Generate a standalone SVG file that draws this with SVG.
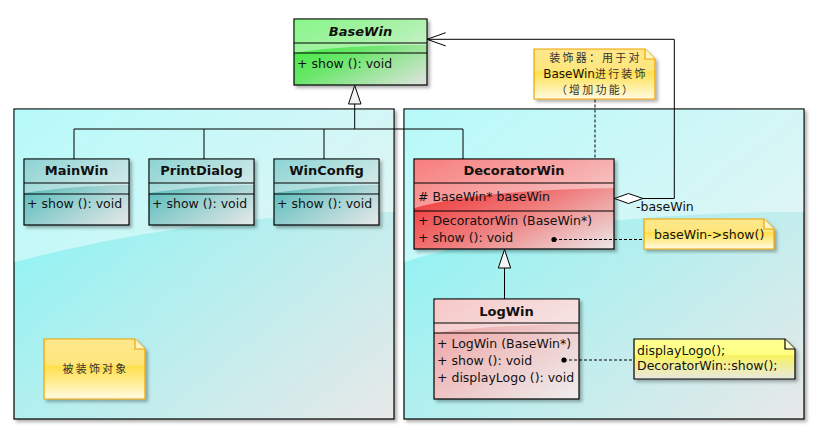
<svg xmlns="http://www.w3.org/2000/svg" width="819" height="434" viewBox="0 0 819 434">
<defs>
<style>
.t{font-family:"DejaVu Sans","Noto Sans CJK SC",sans-serif;font-size:12.5px;fill:#111}
.n{font-family:"DejaVu Sans",sans-serif;font-size:13px;font-weight:bold;fill:#111;text-anchor:middle}
.cn{font-family:"Noto Sans CJK SC","DejaVu Sans",sans-serif;font-size:11px;letter-spacing:2.2px;fill:#333;text-anchor:middle}
.cl{stroke:#000;stroke-width:1.2}
.ln{stroke:#000;stroke-width:1;fill:none}
.dash{stroke:#000;stroke-width:1;fill:none;stroke-dasharray:3,2}
.gl{fill:#fff;fill-opacity:0.45}
.fr{stroke:#000;stroke-width:1.2;fill:url(#gFrame)}
</style>
<linearGradient id="gFrame" x1="0" y1="0" x2="1" y2="1"><stop offset="0" stop-color="#7cf6f6"/><stop offset="1" stop-color="#e8e8e8"/></linearGradient>
<linearGradient id="gTeal" x1="0" y1="0" x2="1" y2="1"><stop offset="0" stop-color="#30b0b0"/><stop offset="1" stop-color="#e8e8e8"/></linearGradient>
<linearGradient id="gRed" x1="0" y1="0" x2="1" y2="1"><stop offset="0" stop-color="#f01414"/><stop offset="0.55" stop-color="#f07878"/><stop offset="1" stop-color="#ebe8e8"/></linearGradient>
<linearGradient id="gPink" x1="0" y1="0" x2="1" y2="1"><stop offset="0" stop-color="#f09a9a"/><stop offset="1" stop-color="#eeeeee"/></linearGradient>
<linearGradient id="gGreen" x1="0" y1="0" x2="1" y2="1"><stop offset="0" stop-color="#28f028"/><stop offset="0.5" stop-color="#6ce66c"/><stop offset="1" stop-color="#e2e2e2"/></linearGradient>
<linearGradient id="gNoteO" x1="0" y1="0" x2="0" y2="1"><stop offset="0" stop-color="#fee88c"/><stop offset="0.42" stop-color="#fee57c"/><stop offset="0.46" stop-color="#ffe04c"/><stop offset="1" stop-color="#fffbe2"/></linearGradient>
<linearGradient id="gNoteY" x1="0" y1="0" x2="0" y2="1"><stop offset="0" stop-color="#ffff92"/><stop offset="0.38" stop-color="#ffff84"/><stop offset="0.42" stop-color="#f8f262"/><stop offset="1" stop-color="#e8e8e2"/></linearGradient>
<filter id="sh" x="-5%" y="-5%" width="115%" height="120%"><feDropShadow dx="2.5" dy="2.5" stdDeviation="1.5" flood-color="#000" flood-opacity="0.3"/></filter>
</defs>
<rect width="819" height="434" fill="#fff"/>

<g id="frameLeft">
<rect class="fr" x="14" y="109" width="380" height="310" filter="url(#sh)"/>
<path class="gl" d="M14.6,109.6 H393.4 V212 Q200,214 14.6,262 Z"/>
</g>
<g id="frameRight">
<rect class="fr" x="404" y="109" width="400" height="310" filter="url(#sh)"/>
<path class="gl" d="M404.6,109.6 H803.4 V212 Q560,212 404.6,262 Z"/>
</g>

<g id="BaseWin">
<rect class="cl" x="294" y="19" width="133" height="66" fill="url(#gGreen)" filter="url(#sh)"/>
<path class="gl" d="M294.6,19.6 H426.4 V45 Q340,45 294.6,53 Z"/>
<line class="cl" x1="294" y1="43" x2="427" y2="43"/>
<line class="cl" x1="294" y1="53" x2="427" y2="53"/>
<text class="n" x="360.5" y="35.5" font-style="italic">BaseWin</text>
<text class="t" x="297" y="67.5">+ show (): void</text>
</g>

<g id="MainWin">
<rect class="cl" x="24" y="159" width="105" height="66" fill="url(#gTeal)" filter="url(#sh)"/>
<path class="gl" d="M24.6,159.6 H128.4 V185 Q70,186 24.6,193 Z"/>
<line class="cl" x1="24" y1="183" x2="129" y2="183"/>
<line class="cl" x1="24" y1="194" x2="129" y2="194"/>
<text class="n" x="76.5" y="175">MainWin</text>
<text class="t" x="27" y="207.5">+ show (): void</text>
</g>

<g id="PrintDialog">
<rect class="cl" x="149" y="159" width="105" height="66" fill="url(#gTeal)" filter="url(#sh)"/>
<path class="gl" d="M149.6,159.6 H253.4 V185 Q195,186 149.6,193 Z"/>
<line class="cl" x1="149" y1="183" x2="254" y2="183"/>
<line class="cl" x1="149" y1="194" x2="254" y2="194"/>
<text class="n" x="201.5" y="175">PrintDialog</text>
<text class="t" x="152" y="207.5">+ show (): void</text>
</g>

<g id="WinConfig">
<rect class="cl" x="274" y="159" width="105" height="66" fill="url(#gTeal)" filter="url(#sh)"/>
<path class="gl" d="M274.6,159.6 H378.4 V185 Q320,186 274.6,193 Z"/>
<line class="cl" x1="274" y1="183" x2="379" y2="183"/>
<line class="cl" x1="274" y1="194" x2="379" y2="194"/>
<text class="n" x="326.5" y="175">WinConfig</text>
<text class="t" x="277" y="207.5">+ show (): void</text>
</g>

<g id="DecoratorWin">
<rect class="cl" x="414" y="159" width="200" height="90" fill="url(#gRed)" filter="url(#sh)"/>
<path class="gl" d="M414.6,159.6 H613.4 V188 Q480,190 414.6,208 Z"/>
<line class="cl" x1="414" y1="183" x2="614" y2="183"/>
<line class="cl" x1="414" y1="211" x2="614" y2="211"/>
<text class="n" x="514" y="175">DecoratorWin</text>
<text class="t" x="418" y="200.5"># BaseWin* baseWin</text>
<text class="t" x="418" y="225">+ DecoratorWin (BaseWin*)</text>
<text class="t" x="418" y="241.5">+ show (): void</text>
</g>

<g id="LogWin">
<rect class="cl" x="434" y="299" width="145" height="100" fill="url(#gPink)" filter="url(#sh)"/>
<path class="gl" d="M434.6,299.6 H578.4 V324 Q490,325 434.6,333 Z"/>
<line class="cl" x1="434" y1="323" x2="579" y2="323"/>
<line class="cl" x1="434" y1="333" x2="579" y2="333"/>
<text class="n" x="506.5" y="315.5">LogWin</text>
<text class="t" x="437" y="347.5">+ LogWin (BaseWin*)</text>
<text class="t" x="437" y="364.5">+ show (): void</text>
<text class="t" x="437" y="381.5">+ displayLogo (): void</text>
</g>

<g id="noteDecorator">
<path d="M534,49 H645 L655,59 V99 H534 Z" fill="url(#gNoteO)" stroke="#f0a400" stroke-width="1.2" filter="url(#sh)"/>
<path d="M645,49 V59 H655" fill="#fff6c8" stroke="#f0a400" stroke-width="1.2"/>
<text class="cn" x="595.5" y="62">装饰器：用于对</text>
<text class="cn" x="595.5" y="78"><tspan font-family="DejaVu Sans" font-size="12" letter-spacing="0" fill="#111">BaseWin</tspan>进行装饰</text>
<text class="cn" x="595.5" y="94">（增加功能）</text>
</g>

<g id="noteShow">
<path d="M644,219 H764 L774,229 V249 H644 Z" fill="url(#gNoteO)" stroke="#f0a400" stroke-width="1.2" filter="url(#sh)"/>
<path d="M764,219 V229 H774" fill="#fff6c8" stroke="#f0a400" stroke-width="1.2"/>
<text class="t" x="654" y="238.5">baseWin-&gt;show()</text>
</g>

<g id="noteLogo">
<path d="M634,339 H785 L795,349 V379 H634 Z" fill="url(#gNoteY)" stroke="#000" stroke-width="1.2" filter="url(#sh)"/>
<path d="M785,339 V349 H795" fill="#ffffd0" stroke="#000" stroke-width="1.2"/>
<text class="t" x="637" y="355">displayLogo();<tspan x="637" dy="14.5">DecoratorWin::show();</tspan></text>
</g>

<g id="noteDecorated">
<path d="M44,339 H135 L145,349 V399 H44 Z" fill="url(#gNoteO)" stroke="#f0a400" stroke-width="1.2" filter="url(#sh)"/>
<path d="M135,339 V349 H145" fill="#fff6c8" stroke="#f0a400" stroke-width="1.2"/>
<text class="cn" x="95.5" y="372.5">被装饰对象</text>
</g>

<g id="connectors">
<polyline class="ln" points="74,159 74,129 463,129 463,159"/>
<line class="ln" x1="204" y1="129" x2="204" y2="159"/>
<line class="ln" x1="324" y1="129" x2="324" y2="159"/>
<line class="ln" x1="354.7" y1="129" x2="354.7" y2="104"/>
<polygon points="354.7,85.5 348.5,104 361,104" fill="#f4f4f4" stroke="#000" stroke-width="1"/>
<line class="ln" x1="504.5" y1="299" x2="504.5" y2="268"/>
<polygon points="504.5,249.5 498.3,268 510.7,268" fill="#f4f4f4" stroke="#000" stroke-width="1"/>
<polyline class="ln" points="643,198.5 674.3,198.5 674.3,39.3 427,39.3"/>
<polyline class="ln" points="445.7,32.7 427,39.3 445.7,45.9"/>
<polygon points="614.5,198.5 628.5,193.5 643,198.5 628.5,203.5" fill="#fff" stroke="#000" stroke-width="1"/>
<text class="t" x="636" y="210.5">-baseWin</text>
<line class="dash" x1="595" y1="99.5" x2="595" y2="159"/>
<line class="dash" x1="554" y1="239.5" x2="644" y2="239.5"/>
<circle cx="554" cy="239.5" r="2.6" fill="#000"/>
<line class="dash" x1="564" y1="360" x2="634" y2="360"/>
<circle cx="564" cy="360" r="2.6" fill="#000"/>
</g>
</svg>
